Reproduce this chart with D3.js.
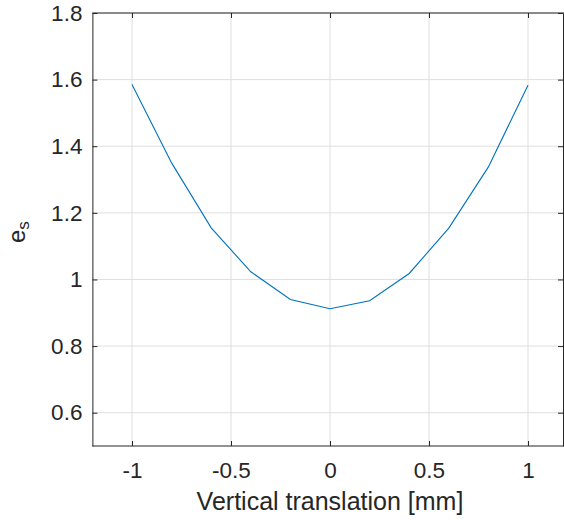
<!DOCTYPE html>
<html>
<head>
<meta charset="utf-8">
<script src="https://cdn.jsdelivr.net/npm/d3@7"></script>
<style>
  html, body { margin: 0; padding: 0; background: #fff; }
  svg { display: block; font-family: "Liberation Sans", Arial, Helvetica, sans-serif; }
</style>
</head>
<body>
<svg id="chart" width="564" height="520"></svg>
<script>
const translation = [-1, -0.8, -0.6, -0.4, -0.2, 0, 0.2, 0.4, 0.6, 0.8, 1];
const esValues = [1.585, 1.350, 1.155, 1.023, 0.940, 0.912, 0.936, 1.018, 1.154, 1.338, 1.583];
const xTicks = [-1, -0.5, 0, 0.5, 1];
const yTicks = [0.6, 0.8, 1, 1.2, 1.4, 1.6, 1.8];
const xLabel = "Vertical translation [mm]";

(function () {
const svg = d3.select("#chart");
const pLeft = 92.4, pRight = 567.6, pTop = 13, pBottom = 446;
const x = d3.scaleLinear().domain([-1.2, 1.2]).range([pLeft, pRight]);
const y = d3.scaleLinear().domain([0.5, 1.8]).range([pBottom, pTop]);
const axisColor = "#262626";

// grid
const grid = svg.append("g");
grid.selectAll("line.gx").data(xTicks).join("line")
  .attr("x1", d => x(d)).attr("x2", d => x(d))
  .attr("y1", pTop).attr("y2", pBottom)
  .attr("stroke", "#dfdfdf").attr("stroke-width", 1);
grid.selectAll("line.gy").data(yTicks).join("line")
  .attr("x1", pLeft).attr("x2", pRight)
  .attr("y1", d => y(d)).attr("y2", d => y(d))
  .attr("stroke", "#dfdfdf").attr("stroke-width", 1);

// axes
const fmt = d => String(d);
const xAxis = svg.append("g").attr("transform", `translate(0,${pBottom})`)
  .call(d3.axisBottom(x).tickValues(xTicks).tickFormat(fmt).tickSizeInner(-5).tickSizeOuter(0).tickPadding(16));
const xAxisTop = svg.append("g").attr("transform", `translate(0,${pTop})`)
  .call(d3.axisTop(x).tickValues(xTicks).tickFormat("").tickSizeInner(-5).tickSizeOuter(0));
const yAxis = svg.append("g").attr("transform", `translate(${pLeft},0)`)
  .call(d3.axisLeft(y).tickValues(yTicks).tickFormat(fmt).tickSizeInner(-5).tickSizeOuter(0).tickPadding(10));
const yAxisRight = svg.append("g").attr("transform", `translate(563,0)`)
  .call(d3.axisRight(y).tickValues(yTicks).tickFormat("").tickSizeInner(-5).tickSizeOuter(0));

[xAxis, xAxisTop, yAxis, yAxisRight].forEach(g => {
  g.select(".domain").attr("stroke", axisColor).attr("stroke-width", 1);
  g.selectAll(".tick line").attr("stroke", axisColor);
  g.selectAll(".tick text").attr("fill", axisColor).attr("font-size", 22.5)
    .attr("font-family", "'Liberation Sans', Arial, sans-serif");
});
xAxis.select(".domain").attr("d", `M${pLeft},0H${pRight}`);
xAxisTop.select(".domain").attr("d", `M${pLeft},0H${pRight}`);

// line
svg.append("path")
  .datum(translation.map((t, i) => [t, esValues[i]]))
  .attr("fill", "none")
  .attr("stroke", "#0072BD")
  .attr("stroke-width", 1.1)
  .attr("d", d3.line().x(d => x(d[0])).y(d => y(d[1])));

// labels
svg.append("text")
  .attr("x", x(0)).attr("y", 510)
  .attr("text-anchor", "middle")
  .attr("font-size", 25).attr("fill", axisColor)
  .text(xLabel);

const yl = svg.append("text")
  .attr("transform", "translate(25,243) rotate(-90)")
  .attr("text-anchor", "start")
  .attr("font-size", 24).attr("fill", axisColor);
yl.append("tspan").text("e");
yl.append("tspan").attr("font-size", 17).attr("dy", 3.5).text("s");
})();
</script>
</body>
</html>
